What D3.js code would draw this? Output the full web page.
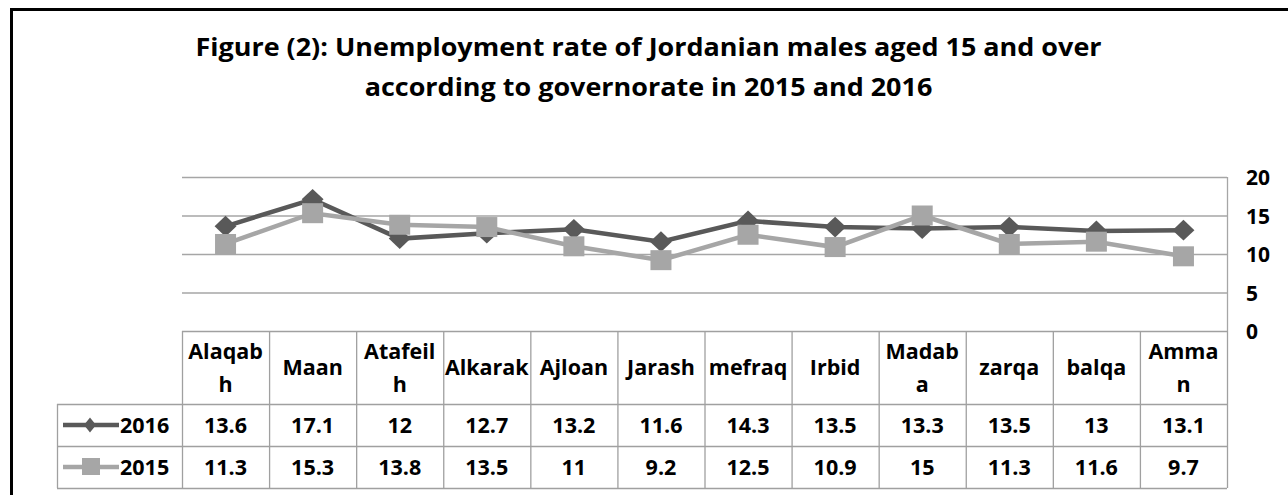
<!DOCTYPE html>
<html><head><meta charset="utf-8">
<script src="https://cdn.jsdelivr.net/npm/d3@7"></script>
<style>
html,body{margin:0;padding:0;background:#fff;overflow:hidden;}
svg{display:block;}
text{font-family:"Open Sans","Noto Sans",sans-serif;font-weight:bold;fill:#000;}
</style></head>
<body>
<script>
const categories = ["Alaqabh","Maan","Atafeilh","Alkarak","Ajloan","Jarash","mefraq","Irbid","Madaba","zarqa","balqa","Amman"];
const headerLines = [["Alaqab","h"],["Maan"],["Atafeil","h"],["Alkarak"],["Ajloan"],["Jarash"],["mefraq"],["Irbid"],["Madab","a"],["zarqa"],["balqa"],["Amma","n"]];
const values2016 = [13.6,17.1,12,12.7,13.2,11.6,14.3,13.5,13.3,13.5,13,13.1];
const values2015 = [11.3,15.3,13.8,13.5,11,9.2,12.5,10.9,15,11.3,11.6,9.7];
const seriesNames = ["2016","2015"];
const yTicks = [0,5,10,15,20];
const titleLines = ["Figure (2): Unemployment rate of Jordanian males aged 15 and over","according to governorate in 2015 and 2016"];

(function(){
const W=1288,H=495;
const svg=d3.select("body").append("svg").attr("width",W).attr("height",H);

// outer frame
svg.append("rect").attr("x",11.5).attr("y",9.5).attr("width",W+20).attr("height",H+20)
  .attr("fill","none").attr("stroke","#000").attr("stroke-width",3);

// title
svg.append("g").selectAll("g").data(titleLines).join("g")
  .attr("transform",(d,i)=>`translate(648.5,${56+i*40}) scale(1.1,1)`)
  .append("text").attr("text-anchor","middle")
  .style("font-size","24.5px").text(d=>d);

const pLeft=182,pRight=1227,pTop=177,pBottom=331;
const x=d3.scaleBand().domain(categories).range([pLeft,pRight]);
const y=d3.scaleLinear().domain([0,20]).range([pBottom,pTop]);
const cxOf=i=>x(categories[i])+x.bandwidth()/2;

const grid="#a6a6a6";
svg.append("g").selectAll("line").data(yTicks.filter(t=>t>0)).join("line")
  .attr("x1",pLeft).attr("x2",pRight).attr("y1",d=>y(d)+0.5).attr("y2",d=>y(d)+0.5)
  .attr("stroke",grid).attr("stroke-width",1.3);
svg.append("line").attr("x1",pRight+0.5).attr("x2",pRight+0.5).attr("y1",pTop).attr("y2",pBottom)
  .attr("stroke",grid).attr("stroke-width",1.3);

// y axis on right
const yAxis=d3.axisRight(y).tickValues(yTicks).tickSize(0).tickPadding(0);
const ya=svg.append("g").attr("transform","translate(1246,0)").call(yAxis);
ya.select(".domain").remove();
ya.selectAll("text").attr("text-anchor","start").attr("fill","#000").attr("dy","0.36em")
  .style("font-size","21px").style("font-family",'"Open Sans",sans-serif').style("font-weight","bold");

// lines
const c2016="#595959",c2015="#a6a6a6";
const line=d3.line().x((d,i)=>cxOf(i)).y(d=>y(d));
svg.append("path").datum(values2016).attr("d",line).attr("fill","none").attr("stroke",c2016).attr("stroke-width",4.5);
svg.append("g").selectAll("path").data(values2016).join("path")
  .attr("transform",(d,i)=>`translate(${cxOf(i)},${y(d)}) scale(1,0.95) rotate(45)`)
  .attr("d",d3.symbol().type(d3.symbolSquare).size(240)).attr("fill",c2016);
svg.append("path").datum(values2015).attr("d",line).attr("fill","none").attr("stroke",c2015).attr("stroke-width",4.5);
svg.append("g").selectAll("rect").data(values2015).join("rect")
  .attr("x",(d,i)=>cxOf(i)-10.5).attr("y",d=>y(d)-10)
  .attr("width",21).attr("height",20).attr("fill",c2015);

// data table
const rowY=[331,404,446,488];
const tb=svg.append("g");
const tc="#a0a0a0";
tb.append("line").attr("x1",pLeft).attr("x2",pRight).attr("y1",rowY[0]+0.5).attr("y2",rowY[0]+0.5).attr("stroke",tc).attr("stroke-width",1.3);
[1,2,3].forEach(k=>tb.append("line").attr("x1",57).attr("x2",pRight).attr("y1",rowY[k]+0.5).attr("y2",rowY[k]+0.5).attr("stroke",tc).attr("stroke-width",1.3));
const vx=categories.map(c=>x(c)).concat([pRight]);
tb.selectAll("line.v").data(vx).join("line").attr("class","v")
  .attr("x1",d=>d+0.5).attr("x2",d=>d+0.5).attr("y1",rowY[0]).attr("y2",rowY[3]).attr("stroke",tc).attr("stroke-width",1.3);
tb.append("line").attr("x1",57.5).attr("x2",57.5).attr("y1",rowY[1]).attr("y2",rowY[3]).attr("stroke",tc).attr("stroke-width",1.3);

const fs="21.5px";
headerLines.forEach((lines,i)=>{
  const mid=(rowY[0]+rowY[1])/2;
  const lh=33;
  lines.forEach((t,j)=>{
    tb.append("text").attr("x",cxOf(i)).attr("y",mid+(j-(lines.length-1)/2)*lh+7.5)
      .attr("text-anchor","middle").style("font-size",fs).text(t);
  });
});
[values2016,values2015].forEach((vals,r)=>{
  const mid=(rowY[r+1]+rowY[r+2])/2;
  tb.append("g").selectAll("text").data(vals).join("text")
    .attr("x",(d,i)=>cxOf(i)).attr("y",mid+7.5)
    .attr("text-anchor","middle").style("font-size",fs).text(d=>d);
  const col=r===0?c2016:c2015;
  tb.append("line").attr("x1",63).attr("x2",119).attr("y1",mid).attr("y2",mid).attr("stroke",col).attr("stroke-width",4.5);
  if(r===0){
    tb.append("path").attr("transform",`translate(90,${mid}) scale(0.85,1.05) rotate(45)`)
      .attr("d",d3.symbol().type(d3.symbolSquare).size(100)).attr("fill",col);
  } else {
    tb.append("rect").attr("x",82).attr("y",mid-9).attr("width",18).attr("height",17).attr("fill",col);
  }
  tb.append("text").attr("x",120).attr("y",mid+7.5).style("font-size",fs).text(seriesNames[r]);
});
})();
</script>
</body></html>
